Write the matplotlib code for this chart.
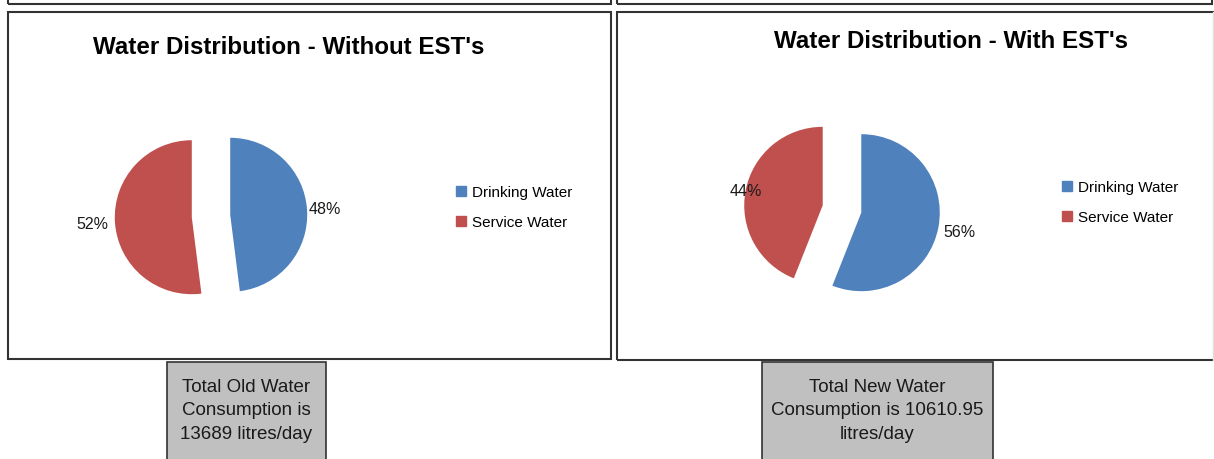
import matplotlib
matplotlib.use("Agg")
import matplotlib.pyplot as plt
from matplotlib.patches import Rectangle
from matplotlib.lines import Line2D
import numpy as np

plt.rcParams["font.family"] = ["Liberation Sans", "DejaVu Sans"]

# data
categories = ["Drinking Water", "Service Water"]
share_old = [48, 52]
share_new = [56, 44]
title_old = "Water Distribution - Without EST's"
title_new = "Water Distribution - With EST's"
note_old = "Total Old Water\nConsumption is\n13689 litres/day"
note_new = "Total New Water\nConsumption is 10610.95\nlitres/day"

colors = ["#4f81bd", "#c0504d"]

W, H = 1214, 460
fig = plt.figure(figsize=(W / 100, H / 100), dpi=100)


def rect(x0, y0, x1, y1, **kw):
    r = Rectangle((x0 / W, 1 - y1 / H), (x1 - x0) / W, (y1 - y0) / H,
                  transform=fig.transFigure, **kw)
    fig.add_artist(r)


def pie_panel(values, title, cx, cy, r_px, title_xy, label_dist, legend_xy):
    size = 300
    ax = fig.add_axes([(cx - size / 2) / W, 1 - (cy + size / 2) / H, size / W, size / H])
    lim = size / 2 / r_px
    wedges, _, autotexts = ax.pie(values, colors=colors, startangle=90, counterclock=False,
                                  explode=[0.25, 0.25], autopct="%d%%",
                                  wedgeprops=dict(linewidth=0),
                                  textprops=dict(fontsize=11.5, color="#1a1a1a"))
    ax.set_xlim(-lim, lim)
    ax.set_ylim(-lim, lim)
    ax.axis("off")
    # push percentage labels out like the original
    for w, t, d in zip(wedges, autotexts, label_dist):
        ang = np.deg2rad((w.theta1 + w.theta2) / 2)
        x0, y0 = w.center
        t.set_position((x0 + d * w.r * np.cos(ang), y0 + d * w.r * np.sin(ang)))
    fig.text(title_xy[0] / W, 1 - title_xy[1] / H, title, ha="center", va="center",
             fontsize=17.4, fontweight="bold")
    handles = [Line2D([], [], linestyle="none", marker="s", markersize=7,
                      markerfacecolor=c, markeredgecolor=c) for c in colors]
    fig.legend(handles, categories, loc="center left",
               bbox_to_anchor=(legend_xy[0] / W, 1 - legend_xy[1] / H),
               frameon=False, fontsize=11, handlelength=0.7, handletextpad=0.35,
               borderpad=0, borderaxespad=0, labelspacing=1.05)


# partial boxes at the top
rect(8, -20, 611, 5, fill=False, edgecolor="#333333", linewidth=1.5)
rect(617, -20, 1212, 5, fill=False, edgecolor="#333333", linewidth=1.5)
# chart boxes
rect(8, 13, 611, 360, fill=False, edgecolor="#333333", linewidth=1.5)
rect(617, 13, 1230, 361, fill=False, edgecolor="#333333", linewidth=1.5)
fig.add_artist(Line2D([1213 / W, 1213 / W], [1 - 13 / H, 1 - 361 / H],
                      transform=fig.transFigure, color="#e0e0e0", linewidth=1))

pie_panel(share_old, title_old, 211, 217, 77, (289, 47), [1.23, 1.29], (456, 208))
pie_panel(share_new, title_new, 842, 210, 78.5, (951, 41), [1.27, 1.0], (1062, 203))

# grey note boxes
rect(167, 363, 326, 475, facecolor="#c0c0c0", edgecolor="#333333", linewidth=1.2)
rect(762, 363, 993, 475, facecolor="#c0c0c0", edgecolor="#333333", linewidth=1.2)
fig.text(246.5 / W, 1 - 411 / H, note_old, ha="center", va="center", fontsize=13.5,
         color="#1a1a1a", linespacing=1.52)
fig.text(877.5 / W, 1 - 411 / H, note_new, ha="center", va="center", fontsize=13.5,
         color="#1a1a1a", linespacing=1.52)

fig.savefig("out.png", dpi=100)
